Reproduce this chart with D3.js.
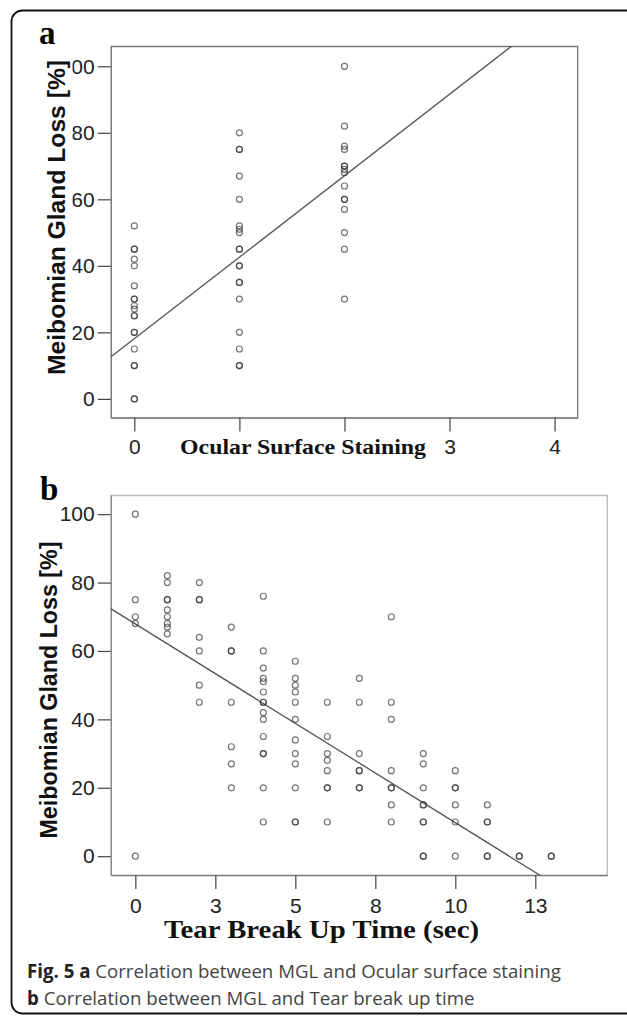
<!DOCTYPE html>
<html>
<head>
<meta charset="utf-8">
<script src="https://cdn.jsdelivr.net/npm/d3@7"></script>
<style>
  body { margin: 0; background: #fff; }
  svg { display: block; }
</style>
</head>
<body>
<div id="chart"></div>
<script>
// panel a: ocular surface staining grade vs MGL
var aStaining = [0,0,0,0,0,0,0,0,0,0,0,0,0,0,0,0,0,0,0,
                 1,1,1,1,1,1,1,1,1,1,1,1,1,1,1,1,1,1,1,
                 2,2,2,2,2,2,2,2,2,2,2,2,2,2,2];
var aMGL = [52,45,45,42,40,34,30,30,28,27,25,25,20,20,15,10,10,0,0,
            80,75,75,67,60,52,51,50,45,45,40,40,35,35,30,20,15,10,10,
            100,82,76,75,70,70,69,68,64,60,60,57,50,45,30];
var aFit = [18.1, 24.5];          // intercept, slope
var aXTicks = [0, 1, 2, 3, 4];
var aXTickLabels = ["0", "", "", "3", "4"];   // 1 and 2 sit under the axis title
var yTicks = [0, 20, 40, 60, 80, 100];

// panel b: tear break up time vs MGL
var bTBUT = [0,0,0,0,0,
             1,1,1,1,1,1,1,1,1,
             2,2,2,2,2,2,2,
             3,3,3,3,3,3,3,
             4,4,4,4,4,4,4,4,4,4,4,4,4,4,4,
             5,5,5,5,5,5,5,5,5,5,5,5,
             6,6,6,6,6,6,6,6,
             7,7,7,7,7,7,7,
             8,8,8,8,8,8,8,8,
             9,9,9,9,9,9,9,9,9,
             10,10,10,10,10,10,
             11,11,11,11,11,
             12,12,
             13,13];
var bMGL = [100,75,70,68,0,
            82,80,75,75,72,70,68,67,65,
            80,75,75,64,60,50,45,
            67,60,60,45,32,27,20,
            76,60,55,52,51,48,45,45,42,40,35,30,30,20,10,
            57,52,50,48,45,40,34,30,27,20,10,10,
            45,35,30,28,25,20,20,10,
            52,45,30,25,25,20,20,
            70,45,40,25,20,20,15,10,
            30,27,20,15,15,10,10,0,0,
            25,20,20,15,10,0,
            15,10,10,0,0,
            0,0,
            0,0];
var bFit = [67.9, -5.81];
var bXTicks = [0, 2.5, 5, 7.5, 10, 12.5];
var bXTickLabels = ["0", "3", "5", "8", "10", "13"];

var svgWidth = 627, svgHeight = 1019;

var svg = d3.select("#chart").append("svg")
    .attr("width", svgWidth)
    .attr("height", svgHeight);

// outer rounded frame (runs off the right edge)
svg.append("rect")
    .attr("x", 11.5).attr("y", 10.5)
    .attr("width", 640).attr("height", 1003)
    .attr("rx", 11)
    .attr("fill", "none")
    .attr("stroke", "#111")
    .attr("stroke-width", 1.8);

var sans = "'Liberation Sans', Arial, sans-serif";
var serif = "'Liberation Serif', 'Times New Roman', serif";

function drawPanel(opt) {
    var xscale = d3.scaleLinear().domain(opt.xdom).range([opt.left, opt.right]);
    var yscale = d3.scaleLinear().domain(opt.ydom).range([opt.bottom, opt.top]);
    var g = svg.append("g");

    // plot box
    g.append("line").attr("x1", opt.left).attr("x2", opt.right)
        .attr("y1", opt.top + 0.5).attr("y2", opt.top + 0.5)
        .attr("stroke", opt.boxColor).attr("stroke-width", 1.3);
    g.append("line").attr("x1", opt.right).attr("x2", opt.right)
        .attr("y1", opt.top).attr("y2", opt.bottom)
        .attr("stroke", opt.boxColor).attr("stroke-width", 1.3);

    var xAxis = d3.axisBottom(xscale).tickValues(opt.xticks)
        .tickSize(14).tickPadding(opt.xPad).tickSizeOuter(0)
        .tickFormat(function(d, i){ return opt.xLabels[i]; });
    var yAxis = d3.axisLeft(yscale).tickValues(yTicks)
        .tickSize(13).tickPadding(3).tickSizeOuter(0)
        .tickFormat(d3.format("d"));

    var xg = g.append("g").attr("transform", `translate(0,${opt.bottom})`).call(xAxis);
    var yg = g.append("g").attr("transform", `translate(${opt.left},0)`).call(yAxis);
    [xg, yg].forEach(function(ax){
        ax.select(".domain").attr("stroke", opt.axisColor).attr("stroke-width", 1.3);
        ax.selectAll(".tick line").attr("stroke", "#444").attr("stroke-width", 1.2);
        ax.selectAll(".tick text").attr("fill", "#222")
            .style("font-family", sans).style("font-size", "21px");
    });

    // clip for fit line
    var clipId = "clip" + opt.name;
    svg.append("clipPath").attr("id", clipId).append("rect")
        .attr("x", opt.left).attr("y", opt.top)
        .attr("width", opt.right - opt.left).attr("height", opt.bottom - opt.top);

    var fx = opt.xdom;
    g.append("line")
        .attr("clip-path", `url(#${clipId})`)
        .attr("x1", xscale(fx[0])).attr("y1", yscale(opt.fit[0] + opt.fit[1] * fx[0]))
        .attr("x2", xscale(fx[1])).attr("y2", yscale(opt.fit[0] + opt.fit[1] * fx[1]))
        .attr("stroke", "#555").attr("stroke-width", 1.3);

    g.selectAll("circle.pt")
        .data(opt.xs)
        .enter()
        .append("circle")
        .attr("class", "pt")
        .attr("cx", function(d){ return xscale(d); })
        .attr("cy", function(d, i){ return yscale(opt.ys[i]); })
        .attr("r", 3)
        .attr("fill", "none")
        .attr("stroke", "#333")
        .attr("stroke-opacity", 0.68)
        .attr("stroke-width", 1.2);

    // y label with white backing (hides what is behind it)
    var yl = g.append("g")
        .attr("transform", `translate(${opt.yLabX},${opt.yLabY}) rotate(-90)`);
    yl.append("rect")
        .attr("x", -opt.yLabLen / 2 - 3).attr("y", -opt.yLabSize * 0.78)
        .attr("width", opt.yLabLen + 6).attr("height", opt.yLabSize * 0.78 + 7.5)
        .attr("fill", "#fff");
    yl.append("text")
        .attr("text-anchor", "middle")
        .attr("font-family", sans)
        .attr("font-weight", "bold")
        .attr("font-size", opt.yLabSize + "px")
        .attr("fill", "#111")
        .attr("textLength", opt.yLabLen)
        .attr("lengthAdjust", "spacingAndGlyphs")
        .text("Meibomian Gland Loss [%]");

    // x label, bold serif
    var xlw = opt.xLabX1 - opt.xLabX0;
    g.append("text")
        .attr("x", opt.xLabX0).attr("y", opt.xLabY)
        .attr("font-family", serif)
        .attr("font-weight", "bold")
        .attr("font-size", opt.xLabSize + "px")
        .attr("fill", "#111")
        .attr("textLength", xlw)
        .attr("lengthAdjust", "spacingAndGlyphs")
        .text(opt.xTitle);

    // panel letter
    g.append("text")
        .attr("x", opt.letterX).attr("y", opt.letterY)
        .attr("font-family", serif)
        .attr("font-weight", "bold")
        .attr("font-size", "33px")
        .attr("fill", "#000")
        .text(opt.name);
}

drawPanel({
    name: "a",
    xs: aStaining, ys: aMGL, fit: aFit,
    xdom: [-0.225, 4.22], ydom: [-5.6, 106.1],
    left: 110.7, right: 577.7, top: 46, bottom: 417.5,
    xticks: aXTicks, xLabels: aXTickLabels, xPad: 8,
    boxColor: "#777", axisColor: "#666",
    yLabX: 65, yLabY: 217.5, yLabSize: 24.6, yLabLen: 315,
    xTitle: "Ocular Surface Staining", xLabX0: 180, xLabX1: 426, xLabY: 454, xLabSize: 22,
    letterX: 39, letterY: 44
});

drawPanel({
    name: "b",
    xs: bTBUT, ys: bMGL, fit: bFit,
    xdom: [-0.77, 14.75], ydom: [-5.5, 105.6],
    left: 110.7, right: 607.3, top: 495, bottom: 875,
    xticks: bXTicks, xLabels: bXTickLabels, xPad: 9,
    boxColor: "#bbb", axisColor: "#777",
    yLabX: 57, yLabY: 690, yLabSize: 23.2, yLabLen: 297,
    xTitle: "Tear Break Up Time (sec)", xLabX0: 164, xLabX1: 479, xLabY: 938, xLabSize: 25,
    letterX: 40, letterY: 500
});

// caption
var capFont = "'Open Sans', 'Noto Sans', sans-serif";
var cap1 = svg.append("text").attr("x", 27).attr("y", 978)
    .attr("font-family", capFont).attr("font-size", "20px").attr("fill", "#444");
cap1.append("tspan").attr("font-weight", "bold").attr("fill", "#222").text("Fig. 5 a");
cap1.append("tspan").text(" Correlation between MGL and Ocular surface staining");

var cap2 = svg.append("text").attr("x", 27).attr("y", 1005)
    .attr("font-family", capFont).attr("font-size", "20px").attr("fill", "#444");
cap2.append("tspan").attr("font-weight", "bold").attr("fill", "#222").text("b");
cap2.append("tspan").text(" Correlation between MGL and Tear break up time");

// size caption so line 1 ends near x=561
var w = cap1.node().getComputedTextLength();
var fs = 20 * (561 - 27) / w;
cap1.attr("font-size", fs + "px");
cap2.attr("font-size", fs + "px");
</script>
</body>
</html>
